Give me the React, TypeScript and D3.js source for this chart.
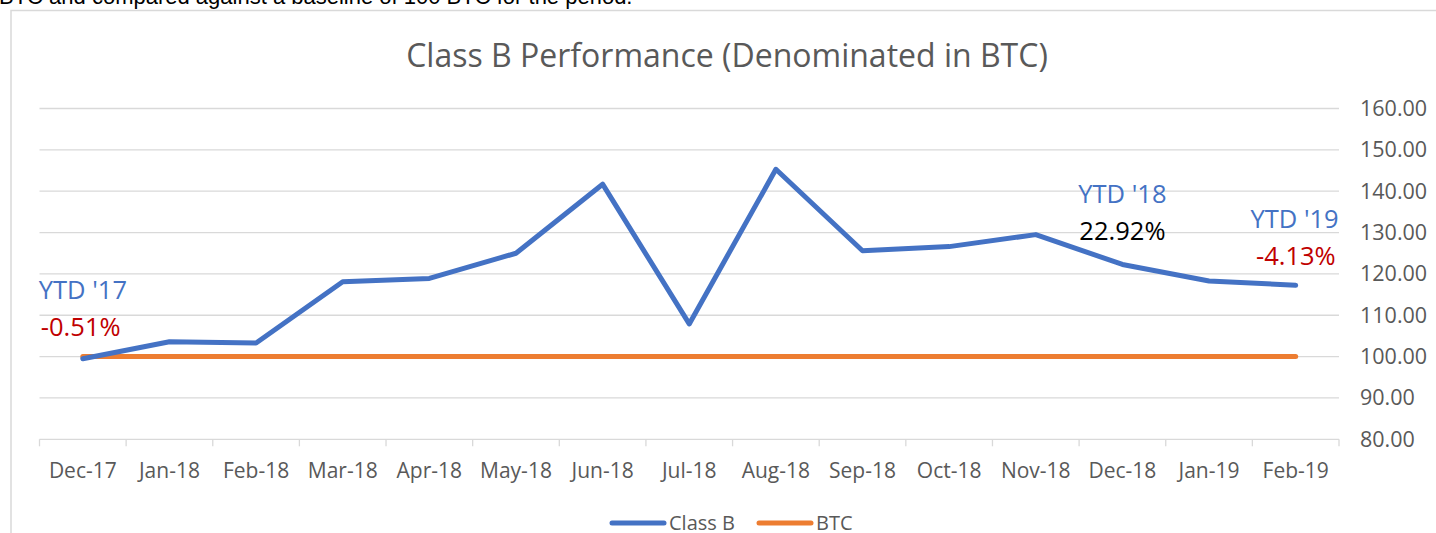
import React, { useEffect, useRef } from 'react';
import * as d3 from 'd3';

const months = ['Dec-17', 'Jan-18', 'Feb-18', 'Mar-18', 'Apr-18', 'May-18', 'Jun-18', 'Jul-18',
  'Aug-18', 'Sep-18', 'Oct-18', 'Nov-18', 'Dec-18', 'Jan-19', 'Feb-19'];
const classB = [99.49, 103.6, 103.3, 118.1, 118.9, 125.0, 141.7, 107.9, 145.3, 125.6, 126.6, 129.5, 122.29, 118.3, 117.24];
const btc = months.map(() => 100);
const yTicks = [80, 90, 100, 110, 120, 130, 140, 150, 160];

// ytd callouts: label, value text, month it sits near
const callouts = [
  { label: "YTD '17", pct: '-0.51%', pctColor: '#C00000', month: 'Dec-17', anchor: 'start', dx: -44, dy: -60 },
  { label: "YTD '18", pct: '22.92%', pctColor: '#000000', month: 'Dec-18', anchor: 'middle', dx: 0, dy: -61 },
  { label: "YTD '19", pct: '-4.13%', pctColor: '#C00000', month: 'Feb-19', anchor: 'end', dx: 43, dy: -57 },
];

const W = 1436;
const H = 533;
const FONT = "'Open Sans', sans-serif";

export default function App() {
  const ref = useRef<SVGSVGElement>(null);

  useEffect(() => {
    if (!ref.current) return;
    const svg = d3.select(ref.current);
    svg.selectAll('*').remove();

    const left = 39.5, right = 1339, top = 108.5, bottom = 439.3;

    const x = d3.scaleBand().domain(months).range([left, right]);
    const y = d3.scaleLinear().domain([80, 160]).range([bottom, top]);
    const cx = (m: string) => (x(m) as number) + x.bandwidth() / 2;

    // paragraph text cut off above the chart
    svg.append('text')
      .attr('x', -1).attr('y', 4)
      .attr('font-family', "'Liberation Sans', Arial, sans-serif")
      .attr('font-size', 22)
      .attr('fill', '#000')
      .text('BTC and compared against a baseline of 100 BTC for the period.');

    // chart frame
    svg.append('path')
      .attr('d', `M11,${H + 5}V10.5H${W + 5}`)
      .attr('fill', 'none')
      .attr('stroke', '#d9d9d9')
      .attr('stroke-width', 1.5);

    svg.append('text')
      .attr('x', 727).attr('y', 67)
      .attr('text-anchor', 'middle')
      .attr('font-family', FONT)
      .attr('font-size', 32)
      .attr('fill', '#595959')
      .text('Class B Performance (Denominated in BTC)');

    // gridlines
    svg.append('g').selectAll('line')
      .data(yTicks.slice(1))
      .join('line')
      .attr('x1', left).attr('x2', right)
      .attr('y1', d => y(d)).attr('y2', d => y(d))
      .attr('stroke', '#d9d9d9').attr('stroke-width', 1.3);

    // x axis
    svg.append('line')
      .attr('x1', left).attr('x2', right)
      .attr('y1', bottom).attr('y2', bottom)
      .attr('stroke', '#d9d9d9').attr('stroke-width', 1.3);
    const bounds = months.map(m => x(m) as number).concat([right]);
    svg.append('g').selectAll('line')
      .data(bounds)
      .join('line')
      .attr('x1', d => d).attr('x2', d => d)
      .attr('y1', bottom).attr('y2', bottom + 7)
      .attr('stroke', '#d9d9d9').attr('stroke-width', 1.3);

    svg.append('g').selectAll('text')
      .data(months)
      .join('text')
      .attr('x', d => cx(d))
      .attr('y', 478)
      .attr('text-anchor', 'middle')
      .attr('font-family', FONT)
      .attr('font-size', 21)
      .attr('fill', '#595959')
      .text(d => d);

    // y axis labels on the right
    svg.append('g').selectAll('text')
      .data(yTicks)
      .join('text')
      .attr('x', 1360)
      .attr('y', d => y(d) + 7.5)
      .attr('font-family', FONT)
      .attr('font-size', 21.5)
      .attr('fill', '#595959')
      .text(d => d.toFixed(2));

    const line = d3.line<number>()
      .x((d, i) => cx(months[i]))
      .y(d => y(d));

    svg.append('path')
      .datum(btc)
      .attr('fill', 'none')
      .attr('stroke', '#ED7D31')
      .attr('stroke-width', 5)
      .attr('stroke-linecap', 'round')
      .attr('d', line);

    svg.append('path')
      .datum(classB)
      .attr('fill', 'none')
      .attr('stroke', '#4472C4')
      .attr('stroke-width', 5)
      .attr('stroke-linecap', 'round')
      .attr('stroke-linejoin', 'round')
      .attr('d', line);

    // callouts
    callouts.forEach(c => {
      const i = months.indexOf(c.month);
      const px = cx(c.month) + c.dx;
      const py = y(classB[i]) + c.dy;
      svg.append('text')
        .attr('x', px).attr('y', py)
        .attr('text-anchor', c.anchor)
        .attr('font-family', FONT)
        .attr('font-size', 25.5)
        .attr('fill', '#4472C4')
        .text(c.label);
      svg.append('text')
        .attr('x', c.anchor === 'start' ? px + 2 : c.anchor === 'end' ? px - 3 : px)
        .attr('y', py + 37)
        .attr('text-anchor', c.anchor)
        .attr('font-family', FONT)
        .attr('font-size', 25.5)
        .attr('fill', c.pctColor)
        .text(c.pct);
    });

    // legend
    const legend = [
      { name: 'Class B', color: '#4472C4', x0: 612 },
      { name: 'BTC', color: '#ED7D31', x0: 759 },
    ];
    const lg = svg.append('g').selectAll('g').data(legend).join('g');
    lg.append('line')
      .attr('x1', d => d.x0).attr('x2', d => d.x0 + 52)
      .attr('y1', 523).attr('y2', 523)
      .attr('stroke', d => d.color)
      .attr('stroke-width', 5)
      .attr('stroke-linecap', 'round');
    lg.append('text')
      .attr('x', d => d.x0 + 57)
      .attr('y', 530)
      .attr('font-family', FONT)
      .attr('font-size', 20)
      .attr('fill', '#595959')
      .text(d => d.name);
  }, []);

  return (
    <div style={{ position: 'absolute', left: 0, top: 0, width: W, height: H, background: '#fff', overflow: 'hidden' }}>
      <svg ref={ref} width={W} height={H} />
    </div>
  );
}
